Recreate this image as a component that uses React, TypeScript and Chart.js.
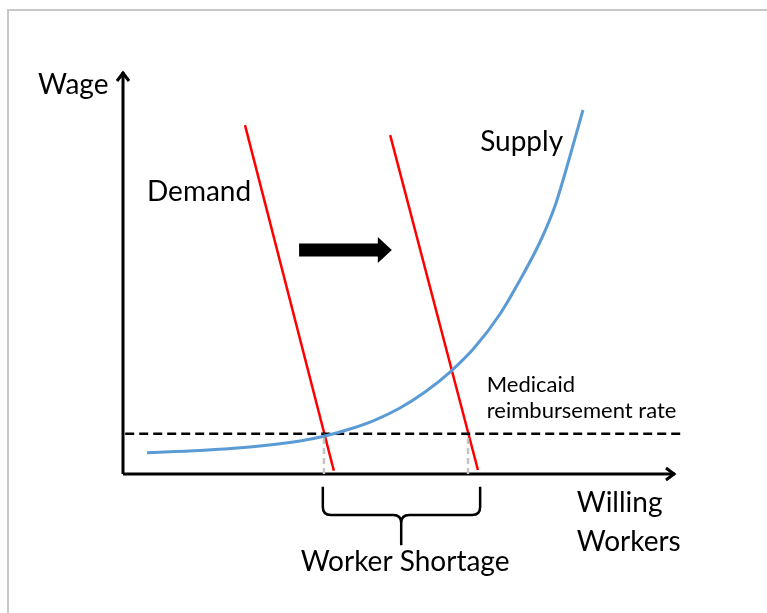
import React, { useEffect, useRef } from "react";
import { Chart, registerables } from "chart.js";

Chart.register(...registerables);

// ---- data (chart units: x = willing workers, y = wage) ----
const supplyX = [4.35, 13.95, 23.01, 32.07, 36.59, 41.12, 45.65, 50.18, 54.71, 59.24, 63.77, 68.3, 71.92, 75.54, 78.26, 80.98, 83.33];
const supplyY = [5.3, 5.85, 6.72, 8.21, 9.45, 11.19, 13.43, 16.42, 20.4, 25.37, 31.59, 39.8, 48.26, 57.71, 66.67, 79.1, 90.55];
const demand1X = [22.1, 38.2];
const demand1Y = [86.8, 0.8];
const demand2X = [48.4, 64.3];
const demand2Y = [84.3, 1.0];
const medicaidRate = 10;
const rateLineX = [0.4, 101];
const shortageX = [36.4, 62.5];
const shiftArrowX = [31.9, 48.7];
const shiftArrowY = 55.7;
const bracketX = [36.2, 50.4, 64.7];
const bracketY = [-3.2, -10.2, -17.7];
const axisMax = 100;

const FONT = "Lato, 'Open Sans', sans-serif";
const labels = [
  { text: "Wage", x: -15.4, y: 96.8, size: 28, align: "left" },
  { text: "Demand", x: 4.35, y: 70.1, size: 28, align: "left" },
  { text: "Supply", x: 64.7, y: 82.6, size: 28, align: "left" },
  { text: "Medicaid", x: 65.9, y: 22.1, size: 22, align: "left" },
  { text: "reimbursement rate", x: 65.9, y: 15.7, size: 22, align: "left" },
  { text: "Willing", x: 82.2, y: -7.2, size: 28, align: "left" },
  { text: "Workers", x: 82.2, y: -16.9, size: 28, align: "left" },
  { text: "Worker Shortage", x: 51.1, y: -21.9, size: 28, align: "center" },
];

const pts = (xs: number[], ys: number[]) => xs.map((x, i) => ({ x, y: ys[i] }));

const decorPlugin = {
  id: "decor",
  beforeDraw(chart: any) {
    const ctx = chart.ctx;
    ctx.save();
    ctx.fillStyle = "#fff";
    ctx.fillRect(0, 0, chart.width, chart.height);
    ctx.strokeStyle = "#c8c8c8";
    ctx.lineWidth = 2;
    ctx.strokeRect(8, 10, chart.width + 20, chart.height + 20);
    ctx.restore();
  },
  afterDatasetsDraw(chart: any) {
    const ctx = chart.ctx;
    const xs = chart.scales.x;
    const ys = chart.scales.y;
    const px = (v: number) => xs.getPixelForValue(v);
    const py = (v: number) => ys.getPixelForValue(v);
    ctx.save();

    // axis arrowheads (open chevrons)
    ctx.strokeStyle = "#000";
    ctx.lineWidth = 3;
    ctx.lineJoin = "miter";
    const ox = px(0);
    const topY = py(axisMax);
    ctx.beginPath();
    ctx.moveTo(ox - 6, topY + 9);
    ctx.lineTo(ox, topY + 1);
    ctx.lineTo(ox + 6, topY + 9);
    ctx.stroke();
    const endX = px(axisMax);
    const oy = py(0);
    ctx.beginPath();
    ctx.moveTo(endX - 9, oy - 6);
    ctx.lineTo(endX - 1, oy);
    ctx.lineTo(endX - 9, oy + 6);
    ctx.stroke();

    // shift arrow (filled block arrow)
    const ax0 = px(shiftArrowX[0]);
    const ax1 = px(shiftArrowX[1]);
    const ay = py(shiftArrowY);
    ctx.fillStyle = "#000";
    ctx.beginPath();
    ctx.moveTo(ax0, ay - 6.5);
    ctx.lineTo(ax1 - 14, ay - 6.5);
    ctx.lineTo(ax1 - 14, ay - 13);
    ctx.lineTo(ax1, ay);
    ctx.lineTo(ax1 - 14, ay + 13);
    ctx.lineTo(ax1 - 14, ay + 6.5);
    ctx.lineTo(ax0, ay + 6.5);
    ctx.closePath();
    ctx.fill();

    // curly bracket
    const bl = px(bracketX[0]);
    const bc = px(bracketX[1]);
    const br = px(bracketX[2]);
    const bt = py(bracketY[0]);
    const bm = py(bracketY[1]);
    const bb = py(bracketY[2]);
    const r = 8;
    ctx.lineWidth = 2.5;
    ctx.lineJoin = "round";
    ctx.beginPath();
    ctx.moveTo(bl, bt);
    ctx.lineTo(bl, bm - r);
    ctx.quadraticCurveTo(bl, bm, bl + r, bm);
    ctx.lineTo(bc - r, bm);
    ctx.quadraticCurveTo(bc, bm, bc, bm + r);
    ctx.lineTo(bc, bb);
    ctx.moveTo(br, bt);
    ctx.lineTo(br, bm - r);
    ctx.quadraticCurveTo(br, bm, br - r, bm);
    ctx.lineTo(bc + r, bm);
    ctx.quadraticCurveTo(bc, bm, bc, bm + r);
    ctx.stroke();

    // labels
    ctx.fillStyle = "#000";
    ctx.textBaseline = "middle";
    labels.forEach((l) => {
      ctx.font = `${l.size}px ${FONT}`;
      ctx.textAlign = l.align;
      ctx.fillText(l.text, px(l.x), py(l.y));
    });
    ctx.restore();
  },
};

export default function App() {
  const ref = useRef<HTMLCanvasElement>(null);
  useEffect(() => {
    if (!ref.current) return;
    const line = (data: any, color: string, width: number, extra: any = {}) => ({
      data,
      borderColor: color,
      borderWidth: width,
      showLine: true,
      pointRadius: 0,
      fill: false,
      clip: false,
      ...extra,
    });
    const chart = new Chart(ref.current, {
      type: "scatter",
      data: {
        datasets: [
          line(pts([shortageX[0], shortageX[0]], [0, medicaidRate]), "#c4c4c4", 2.5, { borderDash: [6, 4] }),
          line(pts([shortageX[1], shortageX[1]], [0, medicaidRate]), "#c4c4c4", 2.5, { borderDash: [6, 4] }),
          line(pts([0, 0], [0, axisMax]), "#000", 3),
          line(pts([0, axisMax], [0, 0]), "#000", 3),
          line(pts(supplyX, supplyY), "#5b9bd5", 3, { cubicInterpolationMode: "monotone" }),
          line(pts(rateLineX, [medicaidRate, medicaidRate]), "#000", 2.5, { borderDash: [9, 5] }),
          line(pts(demand1X, demand1Y), "#ff0000", 2.5),
          line(pts(demand2X, demand2Y), "#ff0000", 2.5),
        ],
      },
      options: {
        responsive: false,
        animation: false,
        events: [],
        layout: { padding: { left: 123, right: 92, top: 72, bottom: 139 } },
        plugins: { legend: { display: false }, tooltip: { enabled: false } },
        scales: {
          x: { type: "linear", min: 0, max: axisMax, display: false },
          y: { type: "linear", min: 0, max: axisMax, display: false },
        },
      },
      plugins: [decorPlugin],
    });
    return () => chart.destroy();
  }, []);
  return (
    <div style={{ position: "fixed", left: 0, top: 0, width: 767, height: 613, background: "#fff" }}>
      <canvas ref={ref} width={767} height={613} style={{ display: "block" }} />
    </div>
  );
}
